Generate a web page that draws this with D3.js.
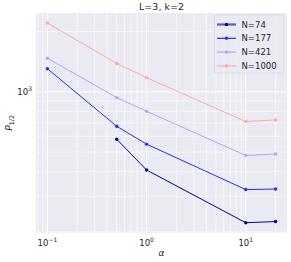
<!DOCTYPE html>
<html><head><meta charset="utf-8">
<script src="https://cdn.jsdelivr.net/npm/d3@7"></script>
<style>body{margin:0;background:#fff}svg{display:block}</style>
</head><body><svg id="c" width="291" height="262"></svg>
<script>
const alphas = [0.1, 0.5, 1, 10, 20];
const seriesNames = ["N=74", "N=177", "N=421", "N=1000"];
const n74   = [null, 580, 407, 222, 225];
const n177  = [1305, 673, 548, 325, 327];
const n421  = [1473, 936, 800, 481, 489];
const n1000 = [2208, 1386, 1177, 711, 724];
const colors = ["#0000a0", "#2a2aff", "#aaaaff", "#ffaaaa"];
const title = "L=3, k=2";

const svg = d3.select("#c");
const m = {l:36, r:287, t:13, b:232.7};
const all = [n74,n177,n421,n1000].flat().filter(v=>v!=null);
const lx0 = Math.log10(d3.min(alphas)), lx1 = Math.log10(d3.max(alphas));
const ly0 = Math.log10(d3.min(all)), ly1 = Math.log10(d3.max(all));
const px = (lx1-lx0)*0.05, py = (ly1-ly0)*0.05;
const x = d3.scaleLog().domain([10**(lx0-px), 10**(lx1+px)]).range([m.l, m.r]);
const y = d3.scaleLog().domain([10**(ly0-py), 10**(ly1+py)]).range([m.b, m.t]);

svg.append("rect").attr("x",m.l).attr("y",m.t).attr("width",m.r-m.l).attr("height",m.b-m.t).attr("fill","#eaeaf2");

const g = svg.append("g");
// minor grids
const xMinor = [], xMajor=[-1,0,1].map(e=>10**e);
for (let e=-2;e<=1;e++) for (let k=2;k<=9;k++){const v=k*10**e; if(v>=x.domain()[0]&&v<=x.domain()[1]) xMinor.push(v);}
const yMinor = [], yMajor=[1000];
for (let e=2;e<=3;e++) for (let k=2;k<=9;k++){const v=k*10**e; if(v>=y.domain()[0]&&v<=y.domain()[1]) yMinor.push(v);}
g.selectAll(".xm").data(xMinor).join("line").attr("x1",d=>x(d)).attr("x2",d=>x(d)).attr("y1",m.t).attr("y2",m.b).attr("stroke","#fff").attr("stroke-width",0.6);
g.selectAll(".ym").data(yMinor).join("line").attr("y1",d=>y(d)).attr("y2",d=>y(d)).attr("x1",m.l).attr("x2",m.r).attr("stroke","#fff").attr("stroke-width",0.6);
g.selectAll(".xM").data(xMajor).join("line").attr("x1",d=>x(d)).attr("x2",d=>x(d)).attr("y1",m.t).attr("y2",m.b).attr("stroke","#fff").attr("stroke-width",1);
g.selectAll(".yM").data(yMajor).join("line").attr("y1",d=>y(d)).attr("y2",d=>y(d)).attr("x1",m.l).attr("x2",m.r).attr("stroke","#fff").attr("stroke-width",1);

const font = "DejaVu Sans, sans-serif";
// x tick labels
const xl = svg.append("g").attr("font-family",font).attr("fill","#262626");
[-1,0,1].forEach(e=>{
  const t = xl.append("text").attr("x",x(10**e)).attr("y",246).attr("text-anchor","middle").attr("font-size",8.5);
  t.append("tspan").text("10");
  t.append("tspan").attr("dy",-4).attr("font-size",6).text(e<0?"\u22121":String(e));
});
// y tick label
const yt = xl.append("text").attr("x",32).attr("y",y(1000)+3.5).attr("text-anchor","end").attr("font-size",8.5);
yt.append("tspan").text("10");
yt.append("tspan").attr("dy",-4).attr("font-size",6).text("3");

// axis labels
svg.append("text").attr("x",(m.l+m.r)/2).attr("y",256).attr("text-anchor","middle").attr("font-family",font).attr("font-size",9).attr("font-style","italic").attr("fill","#262626").text("\u03b1");
const yl = svg.append("text").attr("transform",`translate(12,${(m.t+m.b)/2}) rotate(-90)`).attr("text-anchor","middle").attr("font-family",font).attr("font-size",9).attr("fill","#262626");
yl.append("tspan").attr("font-style","italic").text("P");
yl.append("tspan").attr("dy",2).attr("font-size",6.5).text("1/2");
svg.append("text").attr("x",(m.l+m.r)/2).attr("y",10).attr("text-anchor","middle").attr("font-family",font).attr("font-size",9.5).attr("fill","#262626").text(title);

// series
const data = [n74,n177,n421,n1000];
const line = d3.line().defined(d=>d.v!=null).x(d=>x(d.a)).y(d=>y(d.v));
data.forEach((s,i)=>{
  const pts = alphas.map((a,j)=>({a, v:s[j]}));
  svg.append("path").attr("d",line(pts)).attr("fill","none").attr("stroke",colors[i]).attr("stroke-width",1);
  svg.selectAll(null).data(pts.filter(d=>d.v!=null)).join("circle").attr("cx",d=>x(d.a)).attr("cy",d=>y(d.v)).attr("r",1.7).attr("fill",colors[i]);
});

// legend
const lg = svg.append("g");
lg.append("rect").attr("x",214.5).attr("y",15).attr("width",69.5).attr("height",58).attr("rx",2).attr("fill","#eaeaf2").attr("fill-opacity",0.8).attr("stroke","#d8d8e0").attr("stroke-width",0.8);
seriesNames.forEach((nm,i)=>{
  const yy = 24.5 + i*13.8;
  lg.append("line").attr("x1",217).attr("x2",236).attr("y1",yy).attr("y2",yy).attr("stroke",colors[i]).attr("stroke-width",i===0?2.2:1.2).attr("stroke-opacity",i===0?0.6:1);
  lg.append("circle").attr("cx",226.5).attr("cy",yy).attr("r",1.7).attr("fill",colors[i]);
  lg.append("text").attr("x",241.5).attr("y",yy+3).attr("font-family",font).attr("font-size",8.5).attr("fill","#262626").text(nm);
});
</script></body></html>
